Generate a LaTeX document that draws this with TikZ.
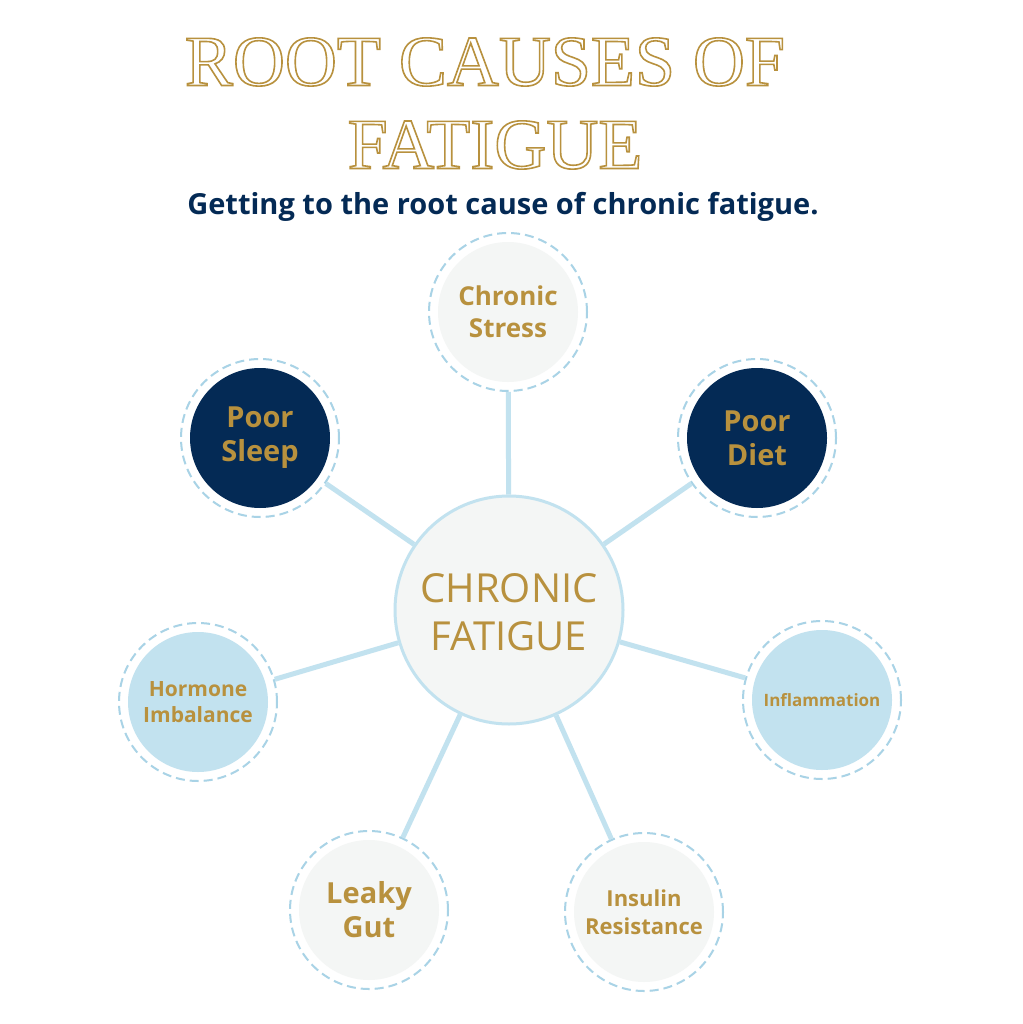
\documentclass[tikz,border=0pt]{standalone}
\usepackage{fontspec}
\setmainfont{Open Sans}
\newfontfamily\titlefont{Liberation Serif}
\definecolor{gold}{HTML}{B8913E}
\definecolor{navy}{HTML}{042A55}
\definecolor{lblue}{HTML}{C2E2EF}
\definecolor{ring}{HTML}{A9D3E6}
\definecolor{pale}{HTML}{F4F6F5}
\newcommand{\outl}[1]{\special{pdf:literal direct 1 Tr 1.6 w}#1\special{pdf:literal direct 0 Tr}}
\tikzset{
 bub/.style={circle,minimum size=140pt,inner sep=0pt,align=center,text=gold,font=\bfseries},
 ringc/.style={circle,draw=ring,dashed,dash pattern=on 9pt off 5pt,line width=2pt,minimum size=158pt,inner sep=0pt},
 conn/.style={draw=lblue,line width=5pt}
}
\begin{document}
\begin{tikzpicture}[x=1pt,y=-1pt]
\useasboundingbox[fill=white] (0,0) rectangle (1022,1024);
\node[text=gold,font=\titlefont\fontsize{72}{72}\selectfont] (t1) at (485,62) {\outl{ROOT CAUSES OF}};
\node[text=gold,font=\titlefont\fontsize{72}{72}\selectfont] (t2) at (495,145) {\outl{FATIGUE}};
\node[text=navy,font=\bfseries\fontsize{29}{29}\selectfont] (sub) at (503,207) {Getting to the root cause of chronic fatigue.};
% rings
\node[ringc] (r1) at (508,312) {};
\node[ringc] (r2) at (260,438) {};
\node[ringc] (r3) at (757,438) {};
\node[ringc] (r4) at (198,702) {};
\node[ringc] (r5) at (822,700) {};
\node[ringc] (r6) at (369,910) {};
\node[ringc] (r7) at (644,912) {};
\node[circle,draw=lblue,line width=3pt,fill=pale,minimum size=228pt] (c) at (509,610) {};
\foreach \r in {r1,r2,r3,r4,r5,r6,r7} \draw[conn] (c) -- (\r);
\node[bub,fill=pale,font=\bfseries\fontsize{26}{32}\selectfont] at (508,312) {Chronic\\Stress};
\node[bub,fill=navy,font=\bfseries\fontsize{29}{34}\selectfont] at (260,438) {Poor\\Sleep};
\node[bub,fill=navy,font=\bfseries\fontsize{29}{34}\selectfont] at (757,438) {Poor\\Diet};
\node[bub,fill=lblue,font=\bfseries\fontsize{21}{26}\selectfont] at (198,702) {Hormone\\Imbalance};
\node[bub,fill=lblue,font=\bfseries\fontsize{17}{20}\selectfont] at (822,700) {Inflammation};
\node[bub,fill=pale,font=\bfseries\fontsize{29}{34}\selectfont] at (369,910) {Leaky\\Gut};
\node[bub,fill=pale,font=\bfseries\fontsize{22}{28}\selectfont] at (644,912) {Insulin\\Resistance};
\node[text=gold,align=center,font=\fontsize{40}{48}\selectfont] (ct) at (509,612) {CHRONIC\\FATIGUE};
\end{tikzpicture}
\end{document}
